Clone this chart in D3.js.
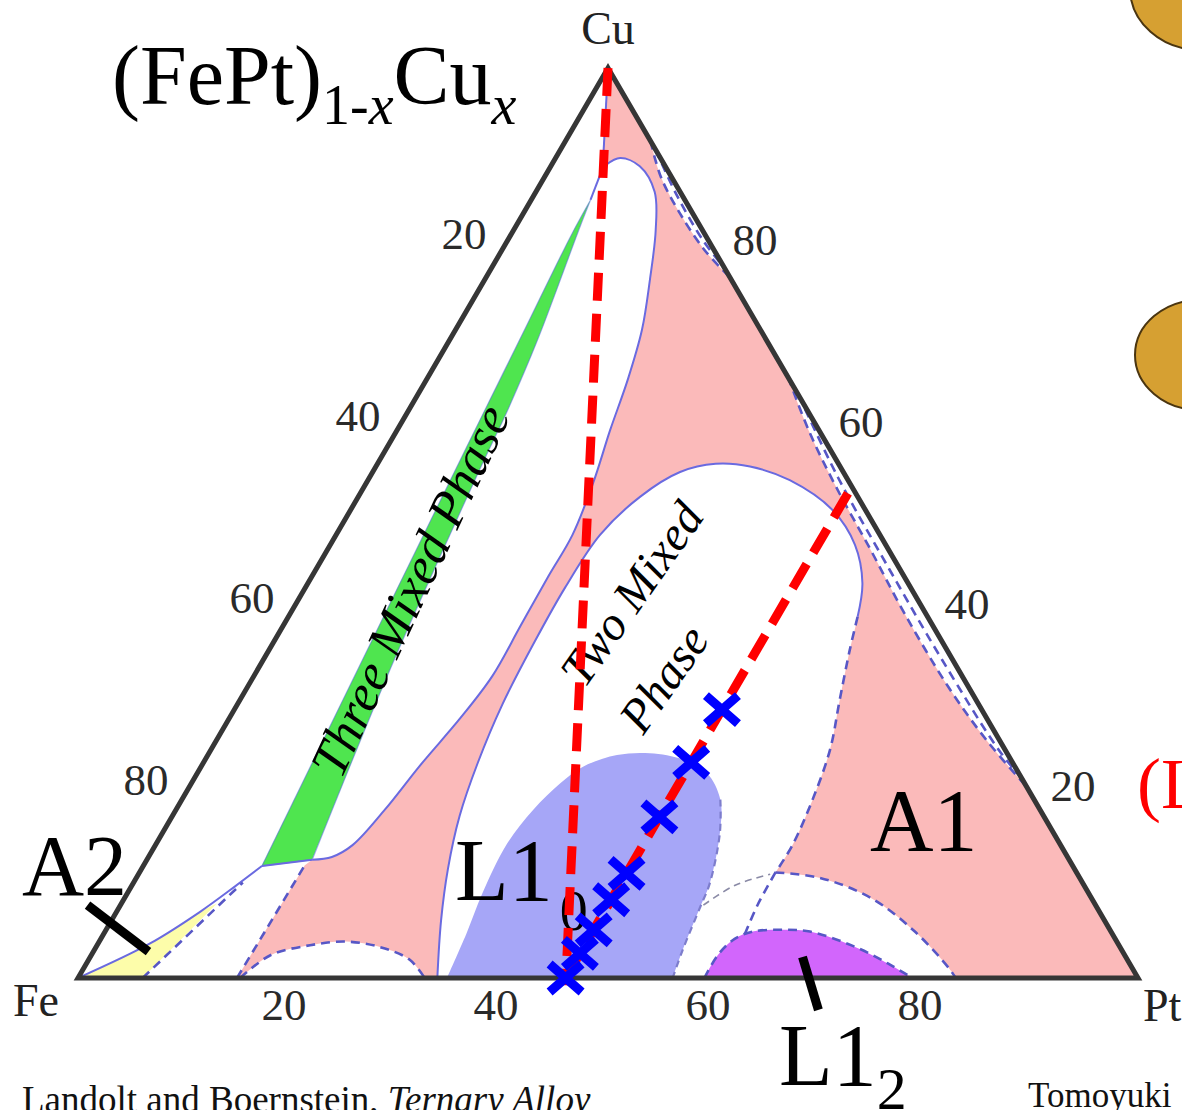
<!DOCTYPE html>
<html><head><meta charset="utf-8">
<script src="https://cdn.jsdelivr.net/npm/d3@7"></script>
<style>
html,body{margin:0;padding:0;background:#fff;overflow:hidden;}
svg{display:block;}
</style></head>
<body>
<svg id="chart" width="1182" height="1110"></svg>
<script>
// ---------- DATA: compositions as [Pt at.%, Cu at.%]  (Fe = 100 - Pt - Cu) ----------
const bottomTicks = [20, 40, 60, 80];        // Pt %
const leftTicks   = [20, 40, 60, 80];        // Fe % (labels on Fe–Cu edge)
const rightTicks  = [20, 40, 60, 80];        // Cu % (labels on Pt–Cu edge)

const apexLine = [[0,100],[5.0,89.0]];
const whiteLoop = [[5.0,89.0],[5.1,89.3],[6.1,90.1],[8.4,89.2],[11.2,86.4],[13.4,82.2],[15.6,76.7],[17.6,71.2],[19.0,65.7],[20.1,60.2],[21.4,54.4],[22.3,48.7],[22.3,44.1],[22.4,38.7],[22.5,33.2],[21.8,28.6],[20.6,23.4],[19.7,18.5],[18.6,14.6],[17.3,13.3],[15.6,13.0]];
const greenLeft  = [[11.2,12.3],[9.4,34.4],[7.6,56.9],[6.6,70.1],[5.7,81.9],[5.6,85.5]];
const greenRight = [[5.6,85.5],[6.2,81.9],[7.0,77.5],[8.3,70.1],[9.3,62.7],[10.0,55.5],[12.5,33.8],[15.6,13.0]];
const greenTop   = [[5.6,85.5],[5.0,89.0]];
const feCurve    = [[0,0],[4.9,3.8],[7.9,7.3],[9.8,10.1],[11.2,12.3]];
const greenBottom= [[11.2,12.3],[15.6,13.0]];
const yellowA2   = [[0,0],[4.9,3.8],[7.9,7.3],[9.0,8.2]];
const yellowEnd  = [[9.0,8.2],[6.1,0]];
const yellowDash = [[6.1,0],[10.3,10.5]];
const feSideDash = [[15.0,0],[15.2,12.4]];
const smallDome  = [[15.3,0],[16.9,2.5],[20.1,3.6],[23.3,4.0],[26.8,3.4],[30.3,2.0],[32.7,0]];
const twoMixedSolid  = [[33.9,0],[31.1,6.3],[28.9,12.0],[27.1,17.8],[25.9,23.6],[25.0,30.1],[24.6,37.0],[24.5,42.9],[24.9,48.7],[26.6,52.9],[29.0,55.6],[31.9,56.5],[35.3,56.2],[39.8,54.7],[45.5,51.4],[49.5,47.6],[52.3,43.4],[53.7,39.7]];
const twoMixedDashed = [[53.7,39.7],[54.8,36.0],[56.6,30.5],[58.4,25.1],[59.5,19.6],[60.1,14.6],[60.0,11.6]];
const outerDome  = [[60.0,11.6],[64.5,11.0],[70.4,8.8],[76.4,5.1],[81.6,1.1],[82.8,0]];
const a1Drop     = [[60.0,11.6],[60.1,8.0],[60.5,4.8]];
const grayArc    = [[55.0,8.0],[56.9,10.2],[59.6,11.4]];
const l12Dome    = [[59.1,0],[59.1,2.5],[59.8,4.3],[61.1,5.1],[63.6,5.3],[66.5,5.1],[71.4,3.5],[75.6,1.6],[78.7,0]];
const l10Region  = [[34.8,0],[34.2,4.9],[33.5,9.3],[33.1,14.8],[33.7,18.5],[34.8,21.4],[36.0,23.2],[38.6,24.5],[41.6,24.7],[45.1,24.0],[48.1,22.5],[50.8,19.6],[52.6,15.9],[54.4,10.4],[54.8,7.8],[55.5,3.1],[56.1,0]];
const l10DashFrom = 11;
const lensTopInner   = [[8,92],[11,88],[14.8,84],[19.1,80],[23,77]];
const lensTopMid     = [[9,91],[13.5,86],[18.5,81],[22,78]];
const lensRightInner = [[34,66],[39,60],[44.5,54],[51.3,47],[58,40],[66.1,32],[72.8,26],[79,21]];
const lensRightMid   = [[36,64],[44.2,55],[54,45],[64,35],[74.4,25],[78,22]];

const redLines = [ [[0,100],[46.4,-0.8]], [[46,0],[46,54]] ];
const samplePt = 46;
const sampleCu = [0, 2.7, 5.3, 8.6, 11.5, 17.7, 23.7, 29.5];

const pointerA2  = [[-3.1,8.0],[5.2,2.9]];
const pointerL12 = [[67.2,2.3],[71.6,-3.5]];

// ---------- SCALES ----------
const x = d3.scaleLinear().domain([0,100]).range([78,1138]);
const y = d3.scaleLinear().domain([0,100]).range([978,68]);
const proj = ([pt,cu]) => [x(pt + cu/2), y(cu)];

const curveGen = d3.line().curve(d3.curveCatmullRom.alpha(0.5));
const linGen = d3.line();
function piecesPath(pieces, close){
  let s = "";
  pieces.forEach((p,i)=>{
    let d = (p.curve ? curveGen : linGen)(p.pts.map(proj));
    if (i>0) d = "L" + d.slice(1);
    s += d;
  });
  return close ? s + "Z" : s;
}
const rev = a => a.slice().reverse();

const SERIF = "'Liberation Serif','Times New Roman',Times,serif";
const PINK = "#fbbaba", GREEN = "#4fe54f", LBLUE = "#a6a6f7", PURPLE = "#d266fc", YELLOW = "#fdfdaa";
const BLINE = "#6a6ae0", BDASH = "#5757c6";

const svg = d3.select("#chart");
svg.append("rect").attr("width",1182).attr("height",1110).attr("fill","#fff");
const defs = svg.append("defs");
defs.append("clipPath").attr("id","tri").append("path")
  .attr("d", piecesPath([{pts:[[0,0],[100,0],[0,100]]}], true));

const fills = svg.append("g").attr("clip-path","url(#tri)");
fills.append("path").attr("d", piecesPath([{pts:[[0,0],[100,0],[0,100]]}], true)).attr("fill", PINK);
const white = "#ffffff";
fills.append("path").attr("fill", white).attr("d", piecesPath([
  {pts:[[0,100],[0,0],[15.0,0],[15.2,12.4],[15.6,13.0]]},
  {pts:rev(whiteLoop), curve:true},
  {pts:[[5.0,89.0],[0,100]]}
], true));
fills.append("path").attr("fill", white).attr("d", piecesPath([
  {pts:twoMixedSolid.concat(twoMixedDashed.slice(1)), curve:true},
  {pts:outerDome, curve:true},
  {pts:[[82.8,0],[33.9,0]]}
], true));
[lensTopInner, lensRightInner].forEach(l=>{
  fills.append("path").attr("fill", white).attr("d", piecesPath([{pts:l, curve:true}], true));
});
fills.append("path").attr("fill", white).attr("d", piecesPath([{pts:smallDome, curve:true}], true));
fills.append("path").attr("fill", GREEN).attr("stroke","rgba(90,110,220,0.55)").attr("stroke-width",1.2)
  .attr("d", piecesPath([{pts:greenLeft, curve:true},{pts:greenRight, curve:true}], true));
fills.append("path").attr("fill", YELLOW).attr("d", piecesPath([{pts:yellowA2, curve:true},{pts:yellowEnd}], true));
fills.append("path").attr("fill", LBLUE).attr("d", piecesPath([{pts:l10Region, curve:true}], true));
fills.append("path").attr("fill", PURPLE).attr("d", piecesPath([{pts:l12Dome, curve:true}], true));

const lines = svg.append("g").attr("fill","none").attr("clip-path","url(#tri)");
[apexLine, greenTop, greenBottom].forEach(l=>lines.append("path").attr("d", piecesPath([{pts:l}])).attr("stroke",BLINE).attr("stroke-width",2));
[whiteLoop, feCurve, twoMixedSolid].forEach(l=>lines.append("path").attr("d", piecesPath([{pts:l, curve:true}])).attr("stroke",BLINE).attr("stroke-width",2));
[feSideDash, yellowDash, smallDome, twoMixedDashed, outerDome, a1Drop, l12Dome,
 lensTopInner, lensTopMid, lensRightInner, lensRightMid].forEach(l=>
  lines.append("path").attr("d", piecesPath([{pts:l, curve:l.length>2}])).attr("stroke",BDASH)
    .attr("stroke-width",2.6).attr("stroke-dasharray","9,6"));
lines.append("path").attr("d", piecesPath([{pts:l10Region.slice(l10DashFrom), curve:true}]))
  .attr("stroke","#7d7dcc").attr("stroke-width",2.2).attr("stroke-dasharray","7,5");
lines.append("path").attr("d", piecesPath([{pts:grayArc, curve:true}]))
  .attr("stroke","#8a8aa6").attr("stroke-width",1.6).attr("stroke-dasharray","7,5");

svg.append("path").attr("d", piecesPath([{pts:[[0,0],[100,0],[0,100]]}], true))
  .attr("fill","none").attr("stroke","#363636").attr("stroke-width",5).attr("stroke-linejoin","miter");

const lab = svg.append("g").attr("font-family", SERIF).attr("fill","#000");
lab.append("text").attr("transform","translate(426,598) rotate(-65)").attr("text-anchor","middle")
  .attr("font-size",52).attr("font-style","italic").text("Three Mixed Phase");
lab.append("text").attr("transform","translate(645,603) rotate(-55)").attr("text-anchor","middle")
  .attr("font-size",48).attr("font-style","italic").text("Two Mixed");
lab.append("text").attr("transform","translate(677,688) rotate(-55)").attr("text-anchor","middle")
  .attr("font-size",48).attr("font-style","italic").text("Phase");
const tL10 = lab.append("text").attr("x",455).attr("y",900).attr("font-size",88);
tL10.append("tspan").text("L1");
tL10.append("tspan").attr("font-size",56).attr("dx",7).attr("dy",30).text("0");
lab.append("text").attr("x",22).attr("y",895).attr("font-size",86).text("A2");
lab.append("text").attr("x",870).attr("y",850).attr("font-size",88).text("A1");
const tL12 = lab.append("text").attr("x",779).attr("y",1085).attr("font-size",88);
tL12.append("tspan").text("L1");
tL12.append("tspan").attr("font-size",60).attr("dy",24).text("2");

svg.append("g").selectAll("path").data(redLines).join("path")
  .attr("d", d=>piecesPath([{pts:d}])).attr("fill","none").attr("stroke","#ff0000")
  .attr("stroke-width",9).attr("stroke-dasharray","28,13");

svg.append("g").selectAll("path").data(sampleCu).join("path")
  .attr("transform", c=>{const [px,py]=proj([samplePt,c]); return `translate(${px},${py})`;})
  .attr("d","M-16,-14L16,14M-16,14L16,-14").attr("stroke","#0000ff").attr("stroke-width",9).attr("fill","none");

[pointerA2, pointerL12].forEach(p=>svg.append("path").attr("d", piecesPath([{pts:p}]))
  .attr("stroke","#000").attr("stroke-width",9).attr("fill","none"));

const ax = svg.append("g").attr("font-family", SERIF).attr("font-size",45).attr("fill","#2a2a2a").attr("text-anchor","middle");
ax.selectAll(".b").data(bottomTicks).join("text").attr("x",d=>proj([d,0])[0]-6).attr("y",1020).text(d=>d);
ax.selectAll(".l").data(leftTicks).join("text").attr("x",d=>proj([0,100-d])[0]-38).attr("y",d=>proj([0,100-d])[1]-1).text(d=>d);
ax.selectAll(".r").data(rightTicks).join("text").attr("x",d=>proj([100-d,d])[0]+41).attr("y",d=>proj([100-d,d])[1]+5).text(d=>d);

const vx = svg.append("g").attr("font-family", SERIF).attr("font-size",46).attr("fill","#222");
vx.append("text").attr("x",proj([0,100])[0]).attr("y",44).attr("text-anchor","middle").text("Cu");
vx.append("text").attr("x",13).attr("y",1016).text("Fe");
vx.append("text").attr("x",1143).attr("y",1021).text("Pt");

const ti = svg.append("text").attr("x",112).attr("y",104).attr("font-family",SERIF).attr("font-size",84).attr("fill","#000");
ti.append("tspan").text("(FePt)");
ti.append("tspan").attr("font-size",56).attr("dy",20).text("1-");
ti.append("tspan").attr("font-size",56).attr("font-style","italic").text("x");
ti.append("tspan").attr("dy",-20).text("Cu");
ti.append("tspan").attr("font-size",56).attr("dy",20).attr("font-style","italic").text("x");

const cr = svg.append("text").attr("x",22).attr("y",1112).attr("font-family",SERIF).attr("font-size",37).attr("fill","#111");
cr.append("tspan").text("Landolt and Boernstein, ");
cr.append("tspan").attr("font-style","italic").text("Ternary Alloy");
svg.append("text").attr("x",1028).attr("y",1107).attr("font-family",SERIF).attr("font-size",35).attr("fill","#111").text("Tomoyuki");

svg.append("ellipse").attr("cx",1200).attr("cy",-12).attr("rx",70).attr("ry",62).attr("fill","#d6a032").attr("stroke","#4a3510").attr("stroke-width",2);
svg.append("ellipse").attr("cx",1200).attr("cy",355).attr("rx",65).attr("ry",55).attr("fill","#d6a032").attr("stroke","#4a3510").attr("stroke-width",2);
svg.append("text").attr("x",1137).attr("y",808).attr("font-family",SERIF).attr("font-size",72).attr("fill","#ff0000").text("(L");
</script>
</body></html>
